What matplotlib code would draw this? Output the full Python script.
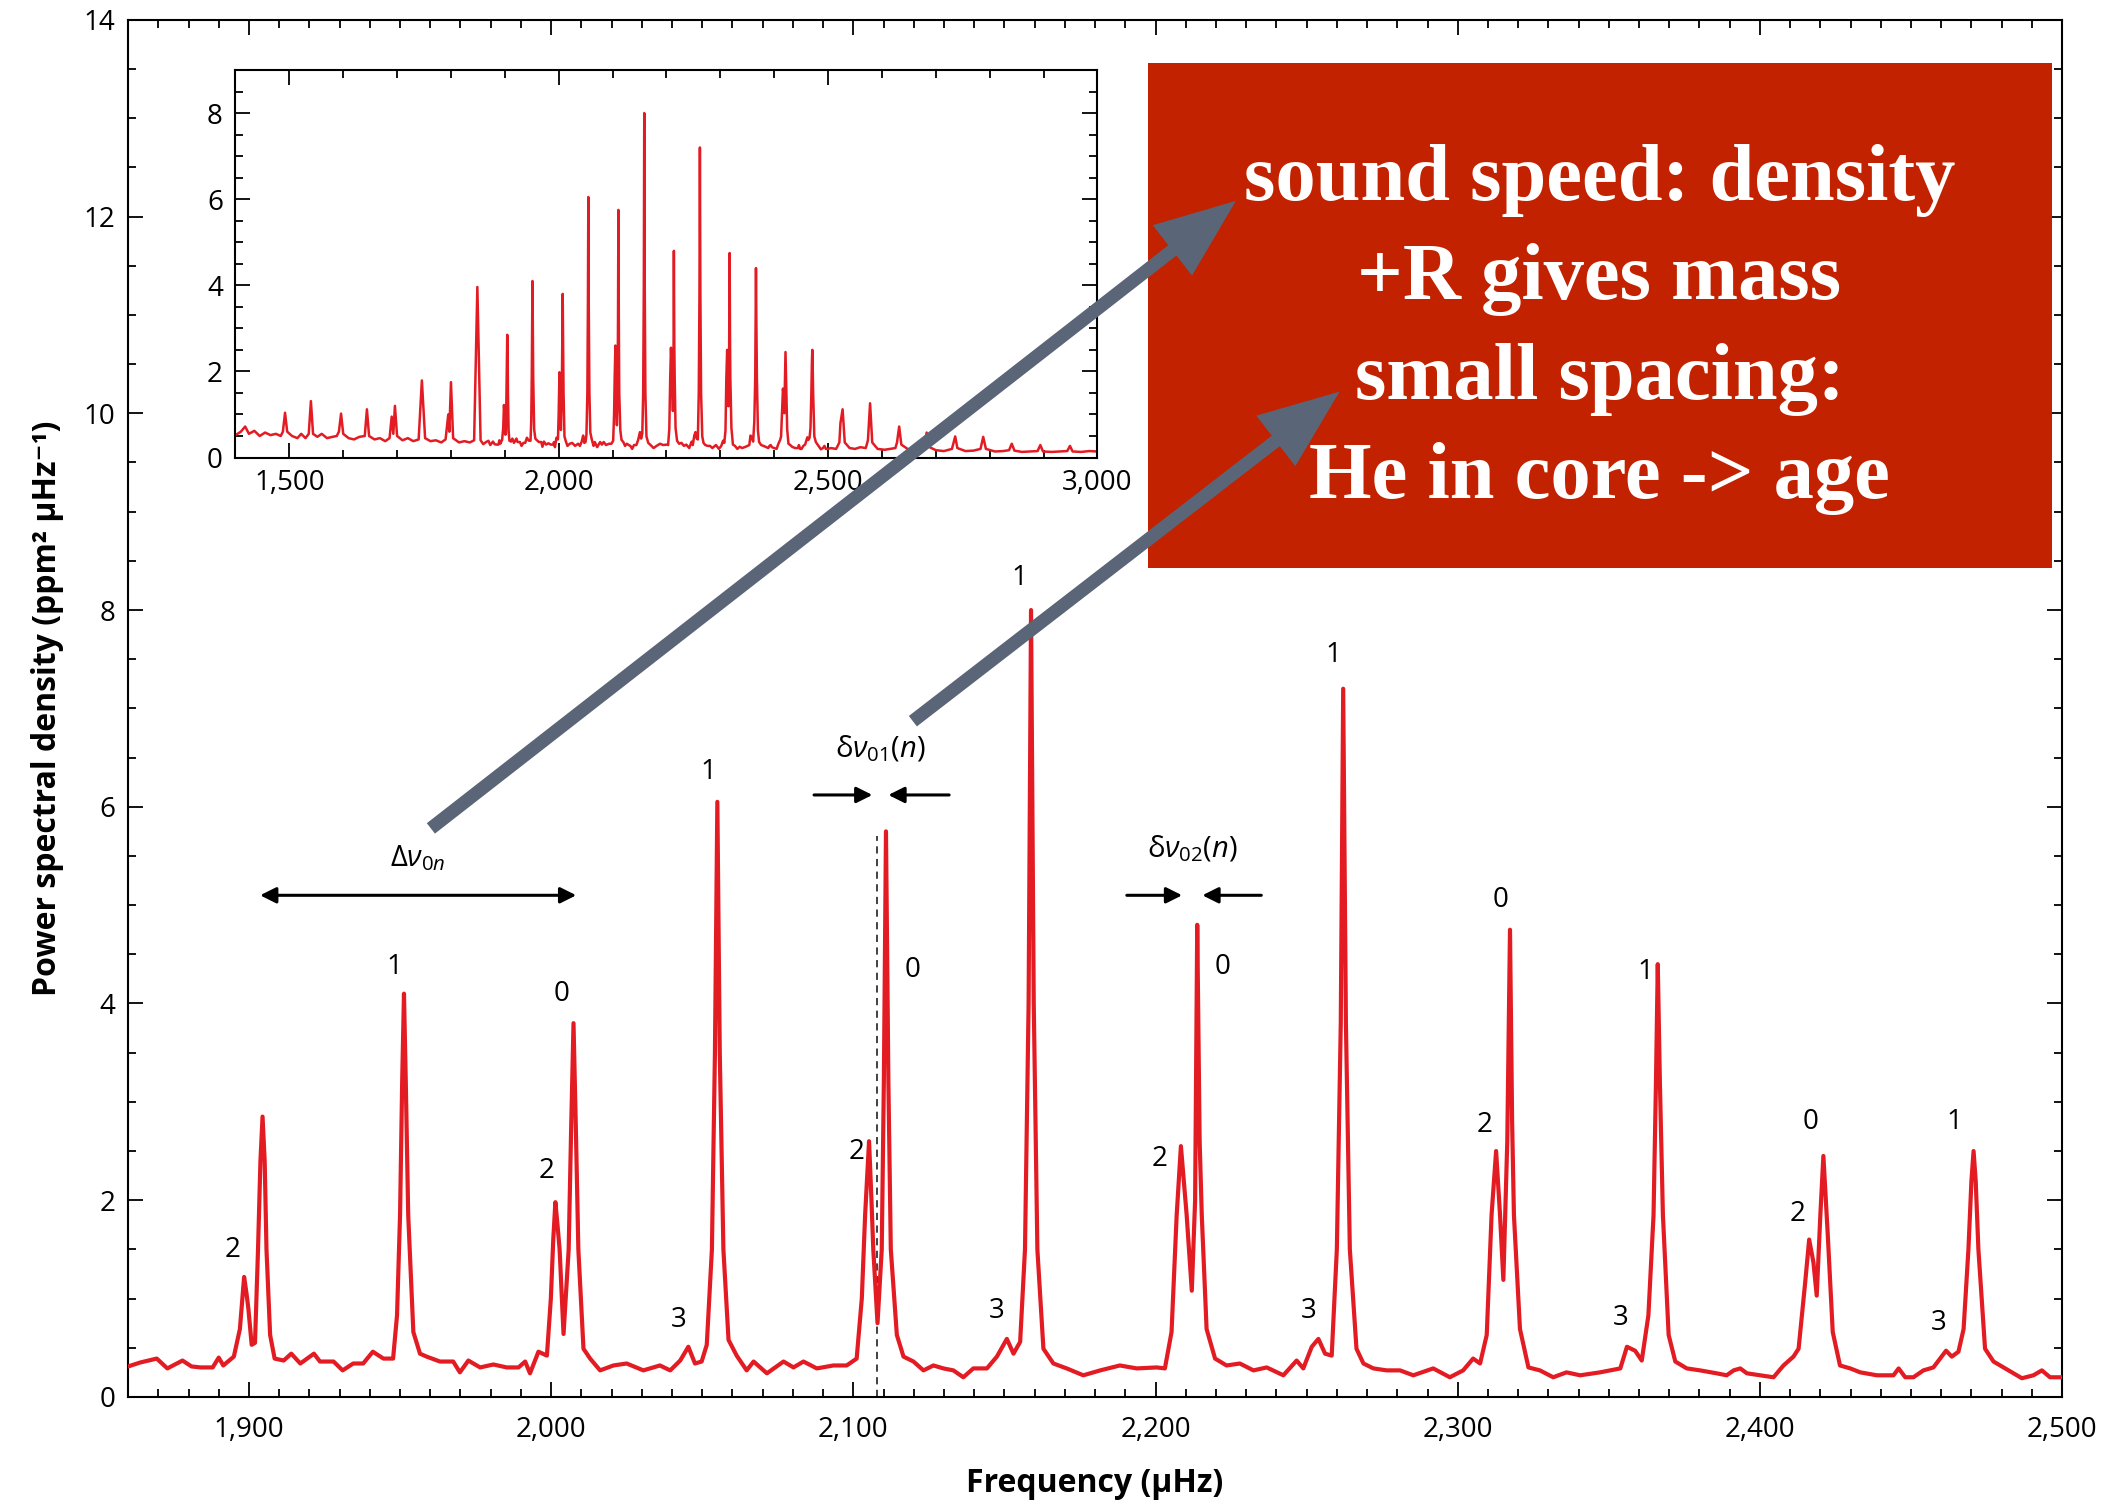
import numpy as np
import matplotlib
matplotlib.use('Agg')
import matplotlib.pyplot as plt
from matplotlib.patches import FancyArrowPatch, Rectangle
from matplotlib.ticker import MultipleLocator, FuncFormatter

plt.rcParams['font.family'] = ['Open Sans', 'DejaVu Sans']
plt.rcParams['mathtext.fontset'] = 'custom'
plt.rcParams['mathtext.rm'] = 'Open Sans'
plt.rcParams['mathtext.it'] = 'Open Sans:italic'

# traced power spectrum, 1860-2500 muHz (main panel)
main_freq = [
    1860, 1864, 1869.5, 1873, 1878, 1881, 1884, 1888, 1890, 1891.5,
    1895, 1897, 1897.8, 1898.4, 1899.2, 1899.8, 1900.9, 1902, 1903, 1903.8,
    1904.5, 1905.2, 1905.8, 1907, 1908.5, 1911.5, 1914, 1917, 1921.5, 1923.5,
    1928, 1931, 1934.5, 1937.8, 1941, 1944.5, 1947.7, 1949, 1950, 1950.7,
    1951.3, 1951.9, 1952.7, 1954.4, 1956.6, 1958.8, 1963.2, 1967.6, 1969.8, 1972.6,
    1976.5, 1980.9, 1985.3, 1989.2, 1991.4, 1993, 1995.8, 1998.6, 1999.9, 2000.7,
    2001.4, 2002.1, 2002.8, 2004.1, 2005.8, 2006.6, 2007.4, 2008.2, 2009, 2010.7,
    2012.9, 2016.2, 2020.6, 2025, 2030.5, 2036, 2039.4, 2042.7, 2045.4, 2047.6,
    2049.8, 2051.5, 2053.2, 2054.2, 2055, 2055.8, 2057, 2058.7, 2061.4, 2064.7,
    2067, 2071.4, 2076.9, 2080.2, 2083.5, 2087.9, 2093.4, 2097.8, 2101.1, 2102.8,
    2103.9, 2105.2, 2106, 2106.6, 2108, 2109.4, 2110.1, 2110.8, 2111.6, 2112.4,
    2114.4, 2116.6, 2119.9, 2123.2, 2126.5, 2129.8, 2133.1, 2136.4, 2139.7, 2144.2,
    2147.5, 2150.8, 2153, 2155.2, 2156.8, 2158, 2158.8, 2159.7, 2160.9, 2162.9,
    2166.2, 2170.6, 2176.1, 2181.7, 2188.2, 2193.8, 2200.4, 2203.1, 2205.3, 2207,
    2208.4, 2210.3, 2212, 2213.1, 2213.8, 2214.6, 2215.3, 2216.9, 2219.7, 2223.5,
    2227.9, 2232.4, 2236.8, 2242.3, 2246.7, 2248.9, 2251.7, 2253.9, 2256.1, 2258.3,
    2260, 2261.3, 2262.1, 2263, 2264.3, 2266.5, 2268.8, 2272.1, 2276.5, 2280.9,
    2285.3, 2291.9, 2297.4, 2301.8, 2305.1, 2307.4, 2309.6, 2311.2, 2312.7, 2314,
    2315.1, 2316.4, 2317.3, 2318, 2318.6, 2320.6, 2323.4, 2327.2, 2331.6, 2336,
    2340.5, 2347.1, 2353.8, 2356, 2358.7, 2360.9, 2363.1, 2364.8, 2365.6, 2366.2,
    2366.9, 2367.9, 2369.8, 2372, 2375.8, 2380.2, 2385.7, 2389, 2391.3, 2393.5,
    2395.7, 2400.1, 2404.5, 2407.8, 2411.1, 2412.8, 2415, 2416.3, 2417.7, 2418.8,
    2420, 2421, 2422.4, 2424.1, 2426.5, 2429.9, 2433.2, 2438.7, 2444.2, 2445.9,
    2448.1, 2450.8, 2454.1, 2457.4, 2459.6, 2461.6, 2463.5, 2465.7, 2467.4, 2469,
    2470, 2470.7, 2471.4, 2472.3, 2474.5, 2477.3, 2480.6, 2483.9, 2486.7, 2490.5,
    2493.3, 2496, 2500]
main_psd = [
    0.31, 0.35, 0.39, 0.29, 0.37, 0.31, 0.30, 0.30, 0.40, 0.32,
    0.41, 0.69, 1.0, 1.22, 1.05, 0.9, 0.53, 0.55, 1.5, 2.4,
    2.85, 2.4, 1.5, 0.63, 0.39, 0.37, 0.44, 0.34, 0.44, 0.36,
    0.36, 0.27, 0.34, 0.34, 0.46, 0.39, 0.39, 0.83, 1.85, 3.2,
    4.1, 3.2, 1.85, 0.66, 0.44, 0.41, 0.36, 0.36, 0.25, 0.37,
    0.30, 0.33, 0.30, 0.30, 0.36, 0.24, 0.46, 0.42, 1.0, 1.6,
    1.98, 1.75, 1.5, 0.64, 1.5, 2.7, 3.8, 2.7, 1.5, 0.49,
    0.39, 0.27, 0.32, 0.34, 0.27, 0.32, 0.27, 0.37, 0.51, 0.34,
    0.36, 0.53, 1.5, 3.5, 6.05, 3.5, 1.5, 0.58, 0.42, 0.27,
    0.36, 0.24, 0.36, 0.30, 0.36, 0.29, 0.32, 0.32, 0.39, 1.0,
    1.85, 2.6, 2.0, 1.5, 0.75, 1.5, 3.2, 5.75, 3.2, 1.5,
    0.63, 0.41, 0.36, 0.27, 0.32, 0.29, 0.27, 0.20, 0.29, 0.29,
    0.41, 0.59, 0.44, 0.56, 1.5, 4.0, 8.0, 4.0, 1.5, 0.49,
    0.34, 0.29, 0.22, 0.27, 0.32, 0.29, 0.30, 0.29, 0.66, 1.85,
    2.55, 1.85, 1.08, 2.0, 4.8, 2.6, 1.85, 0.69, 0.39, 0.32,
    0.34, 0.27, 0.30, 0.22, 0.37, 0.29, 0.51, 0.59, 0.44, 0.42,
    1.5, 3.8, 7.2, 3.8, 1.5, 0.49, 0.34, 0.29, 0.27, 0.27,
    0.22, 0.29, 0.20, 0.27, 0.39, 0.34, 0.63, 1.85, 2.5, 1.85,
    1.19, 2.6, 4.75, 2.8, 1.85, 0.69, 0.30, 0.27, 0.20, 0.25,
    0.22, 0.25, 0.29, 0.51, 0.47, 0.37, 0.83, 1.85, 3.2, 4.4,
    3.2, 1.85, 0.63, 0.36, 0.29, 0.27, 0.24, 0.22, 0.27, 0.29,
    0.24, 0.22, 0.20, 0.32, 0.41, 0.49, 1.17, 1.6, 1.37, 1.03,
    1.85, 2.45, 1.68, 0.66, 0.32, 0.29, 0.25, 0.22, 0.22, 0.29,
    0.20, 0.20, 0.27, 0.30, 0.39, 0.47, 0.41, 0.46, 0.69, 1.5,
    2.2, 2.5, 2.2, 1.5, 0.49, 0.36, 0.30, 0.24, 0.19, 0.22,
    0.27, 0.20, 0.20]

# inset only: parts of the spectrum outside the main window
low_freq = [
    1400, 1410, 1418, 1425, 1435, 1445, 1455, 1465, 1475, 1484,
    1488, 1492, 1496, 1505, 1515, 1522, 1530, 1536, 1540, 1544,
    1552, 1560, 1570, 1580, 1588, 1592, 1596, 1600, 1610, 1620,
    1630, 1640, 1644, 1648, 1658, 1668, 1678, 1686, 1690, 1693,
    1696, 1700, 1710, 1720, 1730, 1740, 1746, 1752, 1762, 1772,
    1782, 1790, 1795, 1797, 1800, 1804, 1815, 1825, 1835, 1843,
    1849, 1855]
low_psd = [
    0.52, 0.60, 0.72, 0.55, 0.62, 0.50, 0.58, 0.52, 0.55, 0.50,
    0.60, 1.04, 0.60, 0.50, 0.45, 0.55, 0.45, 0.55, 1.31, 0.55,
    0.48, 0.55, 0.45, 0.48, 0.50, 0.60, 1.02, 0.55, 0.45, 0.42,
    0.48, 0.50, 1.12, 0.50, 0.42, 0.45, 0.38, 0.45, 0.95, 0.55,
    1.20, 0.50, 0.40, 0.45, 0.38, 0.42, 1.79, 0.45, 0.38, 0.40,
    0.35, 0.42, 1.00, 0.60, 1.75, 0.45, 0.35, 0.38, 0.35, 0.40,
    3.96, 0.40]
high_freq = [
    2505, 2515, 2521, 2523, 2527, 2531, 2540, 2550, 2560, 2570,
    2574, 2578, 2582, 2592, 2605, 2615, 2625, 2628, 2632, 2636,
    2650, 2665, 2679, 2683, 2687, 2700, 2715, 2730, 2736, 2740,
    2755, 2770, 2783, 2788, 2793, 2810, 2825, 2836, 2841, 2846,
    2860, 2875, 2889, 2894, 2899, 2915, 2930, 2944, 2949, 2954,
    2970, 2985, 3000]
high_psd = [
    0.22, 0.20, 0.35, 0.80, 1.12, 0.35, 0.22, 0.20, 0.24, 0.22,
    0.40, 1.26, 0.35, 0.20, 0.18, 0.20, 0.22, 0.35, 0.72, 0.30,
    0.18, 0.17, 0.25, 0.58, 0.25, 0.17, 0.15, 0.20, 0.49, 0.22,
    0.15, 0.16, 0.20, 0.48, 0.20, 0.14, 0.15, 0.17, 0.32, 0.16,
    0.13, 0.14, 0.15, 0.29, 0.14, 0.13, 0.14, 0.15, 0.27, 0.14,
    0.13, 0.15, 0.14]

# mode degree labels
label_text = ['2', '1', '2', '0', '3', '1', '2', '0', '3', '1', '2',
              '0', '3', '1', '2', '0', '3', '1', '2', '0', '3', '1']
label_freq = [1894.6, 1948.2, 1998.6, 2003.4, 2042.3, 2052.0, 2101.0,
              2119.7, 2147.5, 2154.9, 2201.5, 2222.1, 2250.6, 2258.7,
              2309.0, 2314.3, 2354.0, 2362.0, 2412.6, 2416.8, 2459.1,
              2464.4]
label_psd = [1.49, 4.37, 2.30, 4.10, 0.78, 6.35, 2.49, 4.34, 0.87, 8.33,
             2.42, 4.37, 0.87, 7.54, 2.76, 5.05, 0.80, 4.32, 1.86, 2.80,
             0.75, 2.80]

# spacing markers
big_sep_freq = [1903.7, 2008.3]
big_sep_psd = 5.1
d01_freq = [2087.0, 2106.3, 2111.6, 2131.7]
d01_psd = 6.12
d02_freq = [2190.5, 2208.8, 2215.5, 2235.0]
d02_psd = 5.1
dash_freq = 2107.7
dash_top = 5.7

box_lines = ['sound speed: density', '+R gives mass', 'small spacing:',
             'He in core -> age']

red = '#e31b23'
grey = '#5a6577'
box_red = '#c22200'

fig = plt.figure(figsize=(21.1, 15.05), dpi=100)
ax = fig.add_axes([0.0607, 0.0718, 0.9166, 0.915])

ax.plot(main_freq, main_psd, color=red, lw=3.0, solid_joinstyle='round', zorder=3)
ax.plot([dash_freq, dash_freq], [0, dash_top], color='#333333', lw=1.3,
        ls=(0, (4, 3)), zorder=2)

ax.set_xlim(1860, 2500)
ax.set_ylim(0, 14)
ax.xaxis.set_major_locator(MultipleLocator(100))
ax.xaxis.set_minor_locator(MultipleLocator(10))
ax.yaxis.set_major_locator(MultipleLocator(2))
ax.yaxis.set_minor_locator(MultipleLocator(0.5))
ax.xaxis.set_major_formatter(FuncFormatter(lambda v, p: f'{int(v):,}'))
ax.tick_params(which='both', direction='in', top=True, right=True,
               width=1.3, labelsize=20)
ax.tick_params(which='major', length=11)
ax.tick_params(which='minor', length=6)
ax.tick_params(axis='x', pad=14)
ax.tick_params(axis='y', pad=9)
for s in ax.spines.values():
    s.set_linewidth(1.5)

ax.set_xlabel('Frequency (μHz)', fontsize=23, fontweight='bold', labelpad=16)
ax.set_ylabel('Power spectral density (ppm² μHz⁻¹)', fontsize=23,
              fontweight='bold', labelpad=14)

for t, f, p in zip(label_text, label_freq, label_psd):
    ax.text(f, p, t, fontsize=20, ha='center', va='center')

# large separation
ax.annotate('', xy=(big_sep_freq[0], big_sep_psd), xytext=(big_sep_freq[1], big_sep_psd),
            arrowprops=dict(arrowstyle='<|-|>', color='black', lw=2.2,
                            mutation_scale=24, shrinkA=0, shrinkB=0))
ax.text(np.mean(big_sep_freq), big_sep_psd + 0.38, r'$\Delta\nu_{0n}$',
        fontsize=21, ha='center', va='center')

# small separations
for fr, yv, lab in [(d01_freq, d01_psd, r'δ$\nu_{01}(n)$'),
                    (d02_freq, d02_psd, r'δ$\nu_{02}(n)$')]:
    ax.annotate('', xy=(fr[1], yv), xytext=(fr[0], yv),
                arrowprops=dict(arrowstyle='-|>', color='black', lw=2.2,
                                mutation_scale=24, shrinkA=0, shrinkB=0))
    ax.annotate('', xy=(fr[2], yv), xytext=(fr[3], yv),
                arrowprops=dict(arrowstyle='-|>', color='black', lw=2.2,
                                mutation_scale=24, shrinkA=0, shrinkB=0))
    ax.text((fr[1] + fr[2]) / 2, yv + 0.47, lab, fontsize=21,
            ha='center', va='center')

# inset: whole envelope
ins = fig.add_axes([0.1116, 0.696, 0.4085, 0.2575])
ins_freq = low_freq + main_freq + high_freq
ins_psd = low_psd + main_psd + high_psd
ins.plot(ins_freq, ins_psd, color=red, lw=1.8)
ins.set_xlim(1400, 3000)
ins.set_ylim(0, 9)
ins.xaxis.set_major_locator(MultipleLocator(500))
ins.xaxis.set_minor_locator(MultipleLocator(100))
ins.yaxis.set_major_locator(MultipleLocator(2))
ins.yaxis.set_minor_locator(MultipleLocator(0.5))
ins.xaxis.set_major_formatter(FuncFormatter(lambda v, p: f'{int(v):,}'))
ins.tick_params(which='both', direction='in', top=True, right=True,
                width=1.3, labelsize=20)
ins.tick_params(which='major', length=11)
ins.tick_params(which='minor', length=6)
ins.tick_params(axis='x', pad=8)
ins.tick_params(axis='y', pad=9)
for s in ins.spines.values():
    s.set_linewidth(1.5)

# red annotation box on top
fig.add_artist(Rectangle((0.544, 0.6226), 0.4285, 0.3354, transform=fig.transFigure,
                         facecolor=box_red, edgecolor='none', zorder=5))
fig.text(0.758, 0.781, '\n'.join(box_lines), ha='center', va='center',
         color='white', fontsize=58, family=['Liberation Serif', 'DejaVu Serif'],
         fontweight='bold', linespacing=1.47, zorder=6)

# grey arrows pointing into the box
for tail, tip in [((1960.2, 5.78), (2226.6, 12.16)),
                  ((2119.7, 6.87), (2260.9, 10.22))]:
    arr = FancyArrowPatch(tail, tip, transform=ax.transData,
                          arrowstyle='simple,head_length=58,head_width=46,tail_width=9.5',
                          mutation_scale=1, shrinkA=0, shrinkB=0,
                          facecolor=grey, edgecolor='none', zorder=10)
    fig.add_artist(arr)

fig.savefig('out.png', dpi=100)
